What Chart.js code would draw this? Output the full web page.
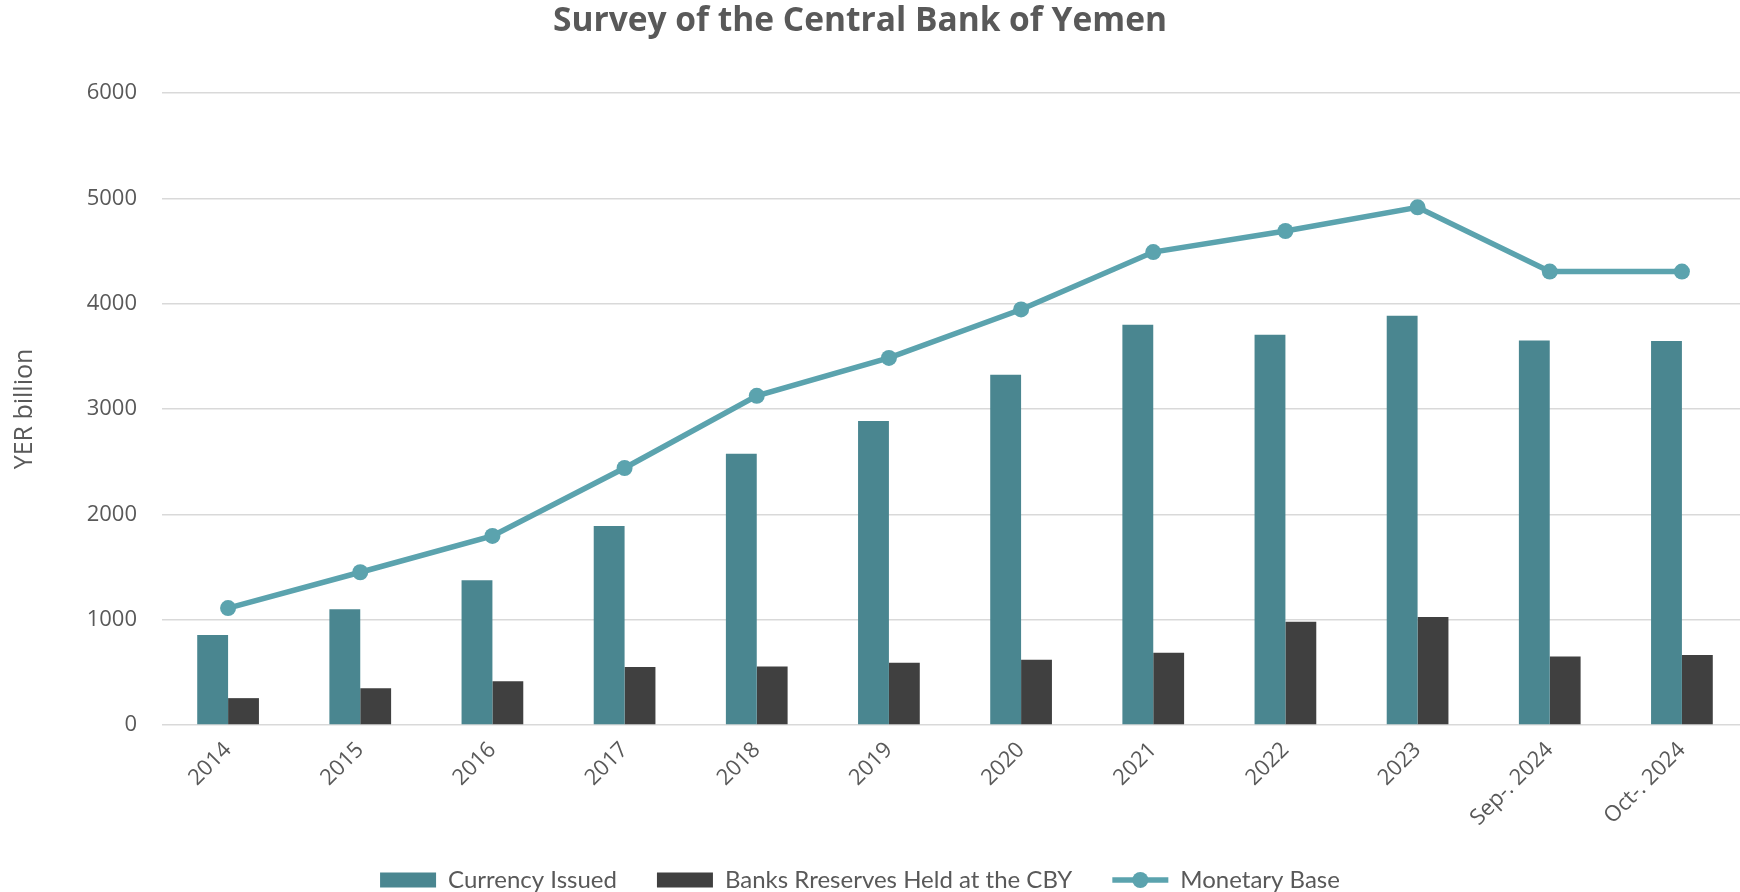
<!DOCTYPE html>
<html>
<head>
<meta charset="utf-8">
<script src="https://cdn.jsdelivr.net/npm/chart.js@4"></script>
<style>
  html, body { margin: 0; padding: 0; background: #fff; overflow: hidden; }
  #wrap { width: 1756px; height: 892px; }
</style>
</head>
<body>
<div id="wrap"><canvas id="cbyChart" width="1756" height="892"></canvas></div>
<script>
const categories = ["2014", "2015", "2016", "2017", "2018", "2019", "2020", "2021", "2022", "2023", "Sep-. 2024", "Oct-. 2024"];
const currencyIssued = [855, 1100, 1375, 1890, 2575, 2885, 3325, 3800, 3705, 3885, 3650, 3645];
const bankReserves = [255, 350, 415, 550, 555, 590, 620, 685, 980, 1025, 650, 665];
const monetaryBase = [1110, 1450, 1795, 2440, 3125, 3485, 3945, 4490, 4690, 4915, 4305, 4305];
const yTicks = [0, 1000, 2000, 3000, 4000, 5000, 6000];

const teal = "#4A8690";
const dark = "#404040";
const lineColor = "#5BA3AE";
const textColor = "#595959";

// little circle on the line item of the legend, like Excel's marker
const legendMarker = {
    id: "legendMarker",
    afterDraw: function (chart) {
        const legend = chart.legend;
        if (!legend || !legend.legendHitBoxes) return;
        const ctx = chart.ctx;
        legend.legendItems.forEach(function (item, i) {
            if (item.datasetIndex !== 2) return;
            const box = legend.legendHitBoxes[i];
            ctx.save();
            ctx.fillStyle = lineColor;
            ctx.beginPath();
            ctx.arc(box.left + 28, box.top + box.height / 2, 8, 0, Math.PI * 2);
            ctx.fill();
            ctx.restore();
        });
    }
};

const ctx = document.getElementById("cbyChart").getContext("2d");
new Chart(ctx, {
    data: {
        labels: categories,
        datasets: [{
            type: "bar",
            label: "Currency Issued",
            data: currencyIssued,
            backgroundColor: teal,
            borderWidth: 0,
            order: 2
        }, {
            type: "bar",
            label: "Banks Rreserves Held at the CBY",
            data: bankReserves,
            backgroundColor: dark,
            borderWidth: 0,
            order: 3
        }, {
            type: "line",
            label: "Monetary Base",
            data: monetaryBase,
            borderColor: lineColor,
            backgroundColor: lineColor,
            borderWidth: 5.5,
            pointRadius: 8,
            pointBorderWidth: 0,
            pointBackgroundColor: lineColor,
            tension: 0,
            order: 1
        }]
    },
    options: {
        responsive: false,
        animation: false,
        // negative left padding pulls title/legend centre left, plot stays in place
        layout: { padding: { top: 0, left: -36, right: 0, bottom: -10 } },
        datasets: {
            bar: { categoryPercentage: 0.467, barPercentage: 1.0 }
        },
        plugins: {
            title: {
                display: true,
                text: "Survey of the Central Bank of Yemen",
                color: textColor,
                font: { family: "'Open Sans', sans-serif", size: 33.5, weight: "bold", lineHeight: 1 },
                padding: { top: 5, bottom: 54.5 }
            },
            legend: {
                position: "bottom",
                labels: {
                    color: textColor,
                    font: { family: "Lato, sans-serif", size: 24 },
                    usePointStyle: true,
                    pointStyleWidth: 56,
                    boxHeight: 15,
                    padding: 40,
                    sort: (a, b) => a.datasetIndex - b.datasetIndex,
                    generateLabels: function (chart) {
                        const items = Chart.defaults.plugins.legend.labels.generateLabels(chart);
                        items.forEach(function (it) {
                            if (it.datasetIndex === 2) {
                                it.pointStyle = "line";
                                it.lineWidth = 5.5;
                                it.strokeStyle = lineColor;
                            } else {
                                it.pointStyle = "rect";
                                it.lineWidth = 0;
                            }
                        });
                        return items;
                    }
                }
            },
            tooltip: { enabled: false }
        },
        scales: {
            x: {
                grid: { display: false },
                border: { display: false },
                ticks: {
                    color: textColor,
                    font: { family: "'Open Sans', sans-serif", size: 22 },
                    minRotation: 45,
                    maxRotation: 45,
                    autoSkip: false,
                    padding: 4
                },
                afterFit: function (scale) { scale.height = 103; }
            },
            y: {
                min: 0,
                max: 6000,
                afterBuildTicks: function (scale) {
                    scale.ticks = yTicks.map(v => ({ value: v }));
                },
                grid: { color: "#D9D9D9", lineWidth: 1.5, drawTicks: false },
                border: { display: false },
                ticks: {
                    color: textColor,
                    font: { family: "'Open Sans', sans-serif", size: 22 },
                    padding: 25,
                    callback: function (value) { return String(value); }
                },
                title: {
                    display: true,
                    text: "YER billion",
                    color: textColor,
                    font: { family: "'Open Sans', sans-serif", size: 25 },
                    padding: { top: 46, bottom: 0 }
                },
                afterFit: function (scale) { scale.width = 198; }
            }
        }
    },
    plugins: [legendMarker]
});
</script>
</body>
</html>
